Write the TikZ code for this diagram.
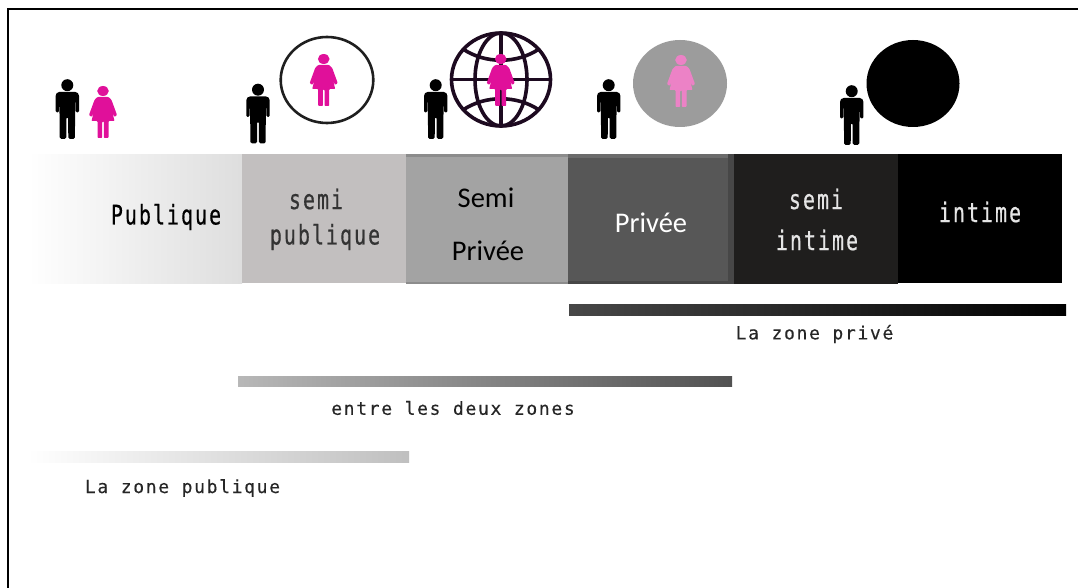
\documentclass[tikz,border=0pt]{standalone}
\usepackage{fontspec}
\setmainfont{Carlito}
\newfontfamily\bandmono[LetterSpace=10,FakeBold=0.6]{DejaVu Sans Mono}
\newfontfamily\capmono[LetterSpace=9.3,FakeBold=0.3]{DejaVu Sans Mono}
\definecolor{pinkw}{HTML}{E0109A}
\definecolor{pinkl}{HTML}{EC82C6}
\definecolor{globec}{HTML}{1D0A20}
\definecolor{semipub}{HTML}{C2BFBF}
\definecolor{semiint}{HTML}{1F1E1D}
\tikzset{
  frameline/.style={line width=2pt,black},
  capt/.style={inner sep=0pt,text=black!85,font=\fontsize{18}{18}\capmono},
  mono/.style={inner sep=0pt,font=\fontsize{27}{27}\bandmono},
  calib/.style={inner sep=0pt,font=\fontsize{28.5}{30}\selectfont},
}
\newcommand{\manfig}[2]{%
  \begin{scope}[shift={(#1,#2)}]
    \fill[black] (0,6.2) ellipse (6 and 6);
    \fill[black,rounded corners=1.4pt]
      (-9.5,13)--(9.5,13)--(11.7,15.5)--(11.7,33.5)--(8.4,33.5)--(8.2,22)--(7.9,22)
      --(7.6,59.8)--(1,59.8)--(0.8,38)--(-0.8,38)--(-1,59.8)--(-7.6,59.8)--(-7.9,22)--(-8.2,22)
      --(-8.4,33.5)--(-11.7,33.5)--(-11.7,15.5)--cycle;
  \end{scope}}
\newcommand{\womanfig}[3]{%
  \begin{scope}[shift={(#1,#2)}]
    \fill[#3] (0,5) ellipse (5.8 and 5);
    \fill[#3,rounded corners=0.8pt]
      (-5.5,11)--(5.5,11)--(8.5,14)--(14,29)--(11.5,31)--(9.5,27)--(11.5,35)--(5.5,35)--(5.5,52)--(0.8,52)--(0.8,35.5)--(-0.8,35.5)
      --(-0.8,52)--(-5.5,52)--(-5.5,35)--(-11.5,35)--(-9.5,27)--(-11.5,31)--(-14,29)--(-8.5,14)--cycle;
  \end{scope}}
\begin{document}
\begin{tikzpicture}[x=1pt,y=-1pt]
\useasboundingbox (0,0) rectangle (1078,588);
\fill[white] (0,0) rectangle (1078,588);
% frame
\draw[frameline] (1078,9) -- (8,9) -- (8,588);
% bands
\shade[left color=white,middle color=black!6,right color=black!13] (28,154.5) rectangle (242,283);
\fill[semipub] (242,154.5) rectangle (406,283);
\fill[black!36] (406,154.5) rectangle (568,283);
\fill[black!45] (406,154.5) rectangle (568,157.5);
\fill[black!45] (406,281.5) rectangle (568,284);
\fill[black!58] (568,154.5) rectangle (734,158);
\fill[black!72] (728,154.5) rectangle (734,284);
\fill[black!72] (568,281) rectangle (734,284);
\fill[black!66] (567.5,158) rectangle (728,281);
\fill[semiint] (734,154.5) rectangle (898,283.5);
\fill[black] (898,154.5) rectangle (1062,283);
% band labels
\node[mono] (lpub) at (166,217) {\scalebox{0.74}[1]{Publique}};
\node[mono,text=black!80] (lsp1) at (316,199) {\scalebox{0.74}[1]{semi}};
\node[mono,text=black!80] (lsp2) at (325,237) {\scalebox{0.74}[1]{publique}};
\node[calib] (lsv1) at (486,198) {Semi};
\node[calib] (lsv2) at (488,251) {Privée};
\node[calib,text=white] (lpv) at (651,223) {Privée};
\node[mono,text=white!90!black] (lsi1) at (816,199) {\scalebox{0.74}[1]{semi}};
\node[mono,text=white!90!black] (lsi2) at (817,240) {\scalebox{0.74}[1]{intime}};
\node[mono,text=white!90!black] (lint) at (980,212) {\scalebox{0.74}[1]{intime}};
% bars
\shade[left color=black!72,right color=black] (569,304) rectangle (1066,315);
\shade[left color=black!28,right color=black!68] (238,376) rectangle (732,386.5);
\shade[left color=white,right color=black!25] (28,451) rectangle (409,462);
% captions
\node[capt] (cpv) at (814.5,334) {La zone privé};
\node[capt] (cen) at (453,408) {entre les deux zones};
\node[capt] (cpu) at (182.5,488) {La zone publique};
% circles
\draw[black!88,line width=2.6pt] (327,80) ellipse (46.3 and 43);
\fill[black!39] (680,83.5) ellipse (47 and 43.5);
\fill[black] (913,83.5) ellipse (46.5 and 43.5);
% globe
\begin{scope}[globec,line width=3.6pt]
  \draw (501,79.5) ellipse (49.5 and 46.5);
  \draw (501,79.5) ellipse (26 and 46.5);
  \draw (451.5,79.5) -- (550.5,79.5);
  \draw (501,33) -- (501,126);
  \draw (463,49) .. controls (485,64) and (517,64) .. (539,49);
  \draw (463,110) .. controls (485,95) and (517,95) .. (539,110);
\end{scope}
% figures
\manfig{67.3}{79}
\womanfig{103}{86}{pinkw}
\manfig{258}{83.5}
\womanfig{323.7}{54}{pinkw}
\manfig{435.7}{79}
\womanfig{500.7}{54}{pinkw}
\manfig{608.7}{79}
\womanfig{681}{55}{pinkl}
\manfig{851.7}{85}
\end{tikzpicture}
\end{document}
